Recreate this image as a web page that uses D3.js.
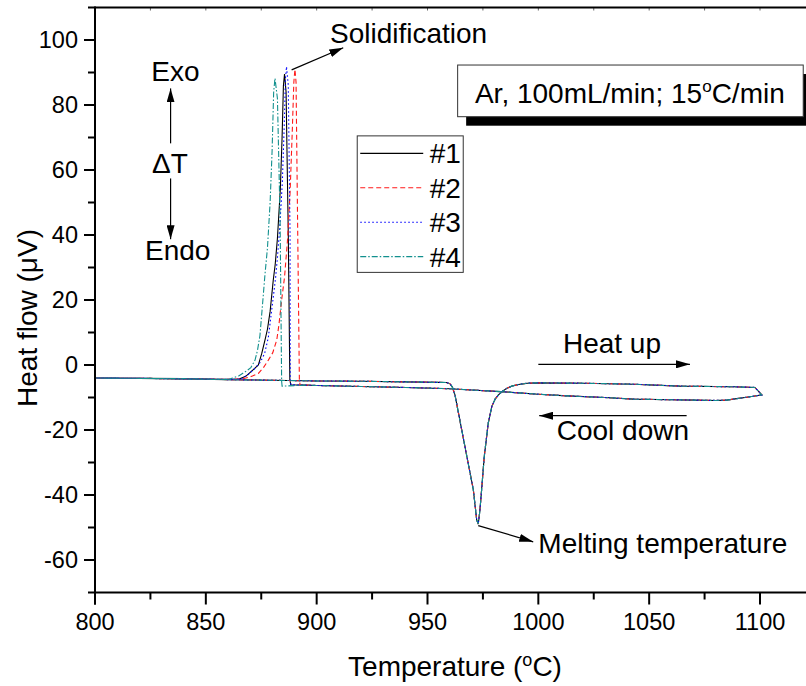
<!DOCTYPE html>
<html>
<head>
<meta charset="utf-8">
<script src="https://cdn.jsdelivr.net/npm/d3@7"></script>
<style>
  html, body { margin: 0; padding: 0; background: #fff; overflow: hidden; }
  svg { display: block; font-family: "Liberation Sans", Arial, sans-serif; }
</style>
</head>
<body>
<svg id="chart" width="806" height="686"></svg>
<script>
// ---- DSC data: heat flow (µV) vs temperature (°C) ----
// Heating scan (shared by all four runs, they overlap)
const heatT = [800, 820, 840, 860, 880, 900, 920, 940, 955, 958.5, 960.2, 961.2, 962.4, 965, 968, 970.7, 972.2, 972.9, 973.6, 974.4, 975.6, 977.4, 979, 980.5, 982, 984, 985.7, 988, 991, 995, 1000, 1020, 1042.7, 1064, 1087.8, 1097.7, 1099.2, 1100.8];
const heatV = [-4.0, -4.1, -4.3, -4.5, -4.7, -4.9, -5.0, -5.2, -5.35, -5.4, -5.8, -6.8, -9.2, -18.4, -29, -38.5, -47.7, -48.9, -45, -38.5, -28.2, -17.9, -12.8, -10.5, -9.2, -8.0, -7.2, -6.5, -6.0, -5.6, -5.5, -5.6, -5.9, -6.5, -6.7, -6.9, -8.0, -9.2];

// Cooling scan above the solidification onset (shared)
const coolT = [1100.8, 1097, 1094, 1088, 1085, 1080, 1070, 1060, 1043, 1030, 1013, 1000, 983, 970, 960, 940, 920, 900, 895];
const coolV = [-9.2, -9.6, -9.9, -10.5, -10.8, -10.9, -10.8, -10.7, -10.5, -10.0, -9.5, -9.0, -8.2, -7.7, -7.3, -6.9, -6.6, -6.3, -6.2];

// Cooling scan below the solidification event (shared)
const tailT = [861, 856, 850, 840, 820, 800];
const tailV = [-4.4, -4.4, -4.3, -4.2, -4.1, -4.0];

// Solidification events per run: [temperature, heat flow], in cooling order
const solid1 = [[888.3, -6.1], [887.9, -4.5], [887.2, 40], [886.2, 84], [885.5, 89.5], [885.0, 86], [884.4, 70], [883.6, 54], [882.3, 39], [881.3, 31], [880.4, 26], [879, 16.5], [877.8, 11], [876.7, 7.7], [875.2, 3.5], [873.7, 0], [871.3, -1.5], [868, -3.5], [865, -4.3]];
const solid2 = [[892.5, -6.1], [892.2, -4.5], [891.3, 50], [890.7, 87], [890.2, 91], [889.7, 87], [889, 72], [888, 53], [886.8, 38], [885.5, 27], [884.2, 20], [883, 12.5], [882, 7.7], [880.2, 3.8], [878.2, 1.5], [876, -0.8], [873.7, -2.6], [871, -3.4], [869.2, -3.8], [866.5, -4.3]];
const solid3 = [[888.4, -6.1], [888.1, -4.5], [888, 40], [887.2, 86], [886.4, 91.8], [885.9, 88], [885.3, 72], [884.5, 56], [883.3, 42], [882.3, 33], [881.5, 27], [880, 18.5], [878.2, 8.5], [876.5, 3.5], [874.5, 0.8], [872.2, -1], [869, -3], [866, -4.3]];
const solid4 = [[884.4, -6.5], [884.2, -5], [883.5, 45], [882.3, 82], [881.2, 88.2], [880.6, 84], [879.9, 66], [879, 50], [877.8, 36], [876.7, 28], [875.5, 18], [874.4, 9], [873.3, 4.5], [872.2, 1.5], [870.3, -0.8], [868.4, -1.8], [865, -3.3], [861.7, -4.1]];

const seriesNames = ["#1", "#2", "#3", "#4"];
const solidEvents = [solid1, solid2, solid3, solid4];

const xMajor = [800, 850, 900, 950, 1000, 1050, 1100];
const xMinor = [825, 875, 925, 975, 1025, 1075, 1125];
const yMajor = [-60, -40, -20, 0, 20, 40, 60, 80, 100];
const yMinor = [-50, -30, -10, 10, 30, 50, 70, 90];

// ---- styles ----
const colors = ["#000000", "#ff1a1a", "#0000ff", "#12908e"];
const dashes = [null, "5,3", "1.6,2.4", "6,2,1.5,2"];

const svg = d3.select("#chart");
const x = d3.scaleLinear().domain([800, 1100]).range([95, 760]);
const y = d3.scaleLinear().domain([-70, 110]).range([592.5, 7.5]);
const xEnd = x(1125);

// defs: arrow head and plot clip
const defs = svg.append("defs");
defs.append("marker")
  .attr("id", "arrow").attr("markerUnits", "userSpaceOnUse")
  .attr("viewBox", "0 0 14 8").attr("refX", 14).attr("refY", 4)
  .attr("markerWidth", 14).attr("markerHeight", 8).attr("orient", "auto")
  .append("path").attr("d", "M0,0 L14,4 L0,8 Z").attr("fill", "#000");
defs.append("clipPath").attr("id", "plotclip")
  .append("rect").attr("x", x(800)).attr("y", y(110)).attr("width", xEnd - x(800)).attr("height", y(-70) - y(110));

// ---- curves ----
const line = d3.line().x(d => x(d[0])).y(d => y(d[1])).curve(d3.curveLinear);
const heating = heatT.map((t, i) => [t, heatV[i]]);
const coolHigh = coolT.map((t, i) => [t, coolV[i]]);
const coolLow = tailT.map((t, i) => [t, tailV[i]]);

const curves = svg.append("g").attr("clip-path", "url(#plotclip)");
solidEvents.forEach((ev, k) => {
  const first = ev[0][0], last = ev[ev.length - 1][0];
  const cooling = coolHigh.filter(d => d[0] > first).concat(ev, coolLow.filter(d => d[0] < last));
  const full = heating.concat(cooling);
  curves.append("path")
    .attr("d", line(full))
    .attr("fill", "none")
    .attr("stroke", colors[k])
    .attr("stroke-width", 1.1)
    .attr("stroke-dasharray", dashes[k]);
});

// ---- axes ----
const axisFont = 23.5;
const fmt = d => String(d);
const gy = svg.append("g").attr("transform", `translate(${x(800)},0)`)
  .call(d3.axisLeft(y).tickValues(yMajor).tickFormat(fmt).tickSize(11).tickSizeOuter(0).tickPadding(6).offset(0));
const gyMinor = svg.append("g").attr("transform", `translate(${x(800)},0)`)
  .call(d3.axisLeft(y).tickValues(yMinor).tickSize(7).tickFormat("").offset(0));
const gx = svg.append("g").attr("transform", `translate(0,${y(-70)})`)
  .call(d3.axisBottom(x).tickValues(xMajor).tickFormat(fmt).tickSize(12).tickSizeOuter(0).tickPadding(9).offset(0));
const gxMinor = svg.append("g").attr("transform", `translate(0,${y(-70)})`)
  .call(d3.axisBottom(x).tickValues(xMinor).tickSize(7).tickFormat("").offset(0));
const gTop = svg.append("g").attr("transform", `translate(0,${y(110)})`)
  .call(d3.axisTop(x).tickValues(xMajor.concat(xMinor)).tickSize(-3).tickFormat("").offset(0));
[gy, gyMinor, gx, gxMinor, gTop].forEach(g => {
  g.select(".domain").remove();
  g.selectAll("line").attr("stroke", "#000").attr("stroke-width", 2);
  g.selectAll("text").attr("font-size", axisFont).attr("font-family", "Liberation Sans, Arial, sans-serif").attr("fill", "#000");
});
gTop.selectAll("line").attr("stroke-width", 1).attr("stroke", "#666");

// frame lines (axes overshoot slightly past the corner)
const frame = svg.append("g").attr("stroke", "#000").attr("stroke-width", 2);
frame.append("line").attr("x1", x(800)).attr("x2", x(800)).attr("y1", y(110) - 1).attr("y2", y(-70) + 12);
frame.append("line").attr("x1", x(800) - 7).attr("x2", xEnd).attr("y1", y(-70)).attr("y2", y(-70));
frame.append("line").attr("x1", x(800) - 7).attr("x2", xEnd).attr("y1", y(110)).attr("y2", y(110));

// axis titles
const xTitle = svg.append("text").attr("x", 455).attr("y", 676).attr("text-anchor", "middle").attr("font-size", 28);
xTitle.append("tspan").text("Temperature (");
xTitle.append("tspan").attr("font-size", 18).attr("dy", -10).text("o");
xTitle.append("tspan").attr("dy", 10).text("C)");
svg.append("text").attr("transform", "translate(37,318) rotate(-90)")
  .attr("text-anchor", "middle").attr("font-size", 28).text("Heat flow (\u03BCV)");

// ---- annotations ----
const ann = svg.append("g").attr("font-size", 28).attr("fill", "#000");
function arrow(x1, y1, x2, y2) {
  svg.append("line").attr("x1", x(x1)).attr("y1", y(y1)).attr("x2", x(x2)).attr("y2", y(y2))
    .attr("stroke", "#000").attr("stroke-width", 1.2).attr("marker-end", "url(#arrow)");
}
// Exo / ΔT / Endo
ann.append("text").attr("x", x(836.3)).attr("y", y(87.4)).attr("text-anchor", "middle").text("Exo");
ann.append("text").attr("x", x(833.8)).attr("y", y(59.1)).attr("text-anchor", "middle").text("\u0394T");
ann.append("text").attr("x", x(837.3)).attr("y", y(32.3)).attr("text-anchor", "middle").text("Endo");
arrow(834.1, 68.2, 834.1, 85.1);
arrow(834.1, 57.4, 834.1, 38.7);
// Solidification
ann.append("text").attr("x", x(906)).attr("y", y(99.1)).text("Solidification");
arrow(888.7, 90.8, 912, 97.6);
// Melting temperature
ann.append("text").attr("x", x(1000)).attr("y", y(-57.9)).text("Melting temperature");
arrow(972.9, -49.4, 997.7, -54.4);
// Heat up / Cool down
ann.append("text").attr("x", x(1011.1)).attr("y", y(3.6)).text("Heat up");
arrow(1000, 0.2, 1068.4, 0.2);
ann.append("text").attr("x", x(1008.3)).attr("y", y(-23.1)).text("Cool down");
arrow(1066.9, -15.6, 1000.4, -15.6);

// Conditions box with drop shadow
const bx = x(963.6), by = y(92.3), bw = x(1119.5) - x(963.6), bh = y(76.4) - y(92.3);
svg.append("rect").attr("x", bx + 8.5).attr("y", by + 9).attr("width", bw).attr("height", bh).attr("fill", "#000");
svg.append("rect").attr("x", bx).attr("y", by).attr("width", bw).attr("height", bh)
  .attr("fill", "#fff").attr("stroke", "#333").attr("stroke-width", 1);
const cond = svg.append("text").attr("x", x(971.4)).attr("y", y(80.5)).attr("font-size", 28);
cond.append("tspan").text("Ar, 100mL/min; 15");
cond.append("tspan").attr("font-size", 17).attr("dy", -11).text("o");
cond.append("tspan").attr("dy", 11).text("C/min");

// ---- legend ----
const lg = svg.append("g").attr("transform", `translate(${x(918.3)},${y(70.5)})`);
lg.append("rect").attr("width", 106).attr("height", 136.5).attr("fill", "#fff").attr("stroke", "#333").attr("stroke-width", 1);
seriesNames.forEach((name, k) => {
  const ly = 17.5 + k * 34.4;
  lg.append("line").attr("x1", 3).attr("x2", 66).attr("y1", ly).attr("y2", ly)
    .attr("stroke", colors[k]).attr("stroke-width", 1.1).attr("stroke-dasharray", dashes[k]);
  lg.append("text").attr("x", 72.5).attr("y", ly + 10).attr("font-size", 28).text(name);
});
</script>
</body>
</html>
